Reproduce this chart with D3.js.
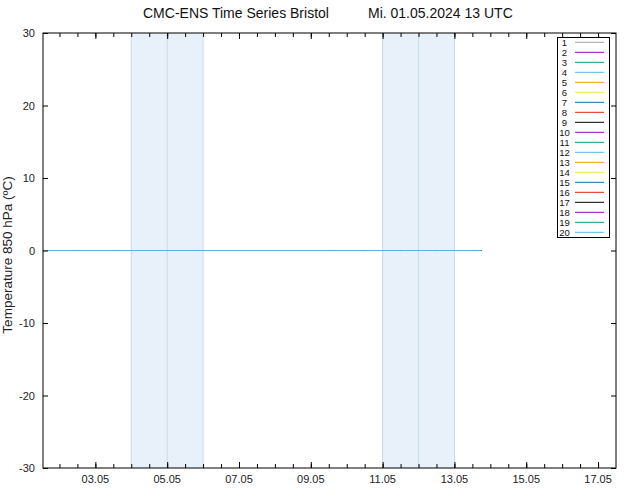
<!DOCTYPE html>
<html><head><meta charset="utf-8">
<script src="https://cdn.jsdelivr.net/npm/d3@7"></script>
<style>body{margin:0;background:#fff}svg{display:block}text{font-family:"Liberation Sans",Arial,sans-serif}</style>
</head><body><svg id="c" width="634" height="490"></svg>
<script>
const titleLeft = "CMC-ENS Time Series Bristol";
const titleRight = "Mi. 01.05.2024 13 UTC";
const yLabel = "Temperature 850 hPa (ºC)";
const domainStart = "2024-05-01T13:00";
const domainEnd = "2024-05-17T12:00";
const xTickLabels = ["03.05","05.05","07.05","09.05","11.05","13.05","15.05","17.05"];
const yTicks = [-30,-20,-10,0,10,20,30];
const weekendBands = [["2024-05-04T00:00","2024-05-06T00:00"],["2024-05-11T00:00","2024-05-13T00:00"]];
const members = ["1","2","3","4","5","6","7","8","9","10","11","12","13","14","15","16","17","18","19","20"];
const memberColors = ["#a0a0a0","#9400d3","#009e73","#56b4e9","#e69f00","#f0e442","#0072b2","#e51e10","#000000","#9400d3","#009e73","#56b4e9","#e69f00","#f0e442","#0072b2","#e51e10","#000000","#9400d3","#009e73","#56b4e9"];
const times = ["2024-05-01T12:00","2024-05-02T12:00","2024-05-03T12:00","2024-05-04T12:00","2024-05-05T12:00","2024-05-06T12:00","2024-05-07T12:00","2024-05-08T12:00","2024-05-09T12:00","2024-05-10T12:00","2024-05-11T12:00","2024-05-12T12:00","2024-05-13T12:00","2024-05-13T18:00"];
const memberValues = [
[0,0,0,0,0,0,0,0,0,0,0,0,0,0],[0,0,0,0,0,0,0,0,0,0,0,0,0,0],[0,0,0,0,0,0,0,0,0,0,0,0,0,0],[0,0,0,0,0,0,0,0,0,0,0,0,0,0],
[0,0,0,0,0,0,0,0,0,0,0,0,0,0],[0,0,0,0,0,0,0,0,0,0,0,0,0,0],[0,0,0,0,0,0,0,0,0,0,0,0,0,0],[0,0,0,0,0,0,0,0,0,0,0,0,0,0],
[0,0,0,0,0,0,0,0,0,0,0,0,0,0],[0,0,0,0,0,0,0,0,0,0,0,0,0,0],[0,0,0,0,0,0,0,0,0,0,0,0,0,0],[0,0,0,0,0,0,0,0,0,0,0,0,0,0],
[0,0,0,0,0,0,0,0,0,0,0,0,0,0],[0,0,0,0,0,0,0,0,0,0,0,0,0,0],[0,0,0,0,0,0,0,0,0,0,0,0,0,0],[0,0,0,0,0,0,0,0,0,0,0,0,0,0],
[0,0,0,0,0,0,0,0,0,0,0,0,0,0],[0,0,0,0,0,0,0,0,0,0,0,0,0,0],[0,0,0,0,0,0,0,0,0,0,0,0,0,0],[0,0,0,0,0,0,0,0,0,0,0,0,0,0]
];

const parse = d3.utcParse("%Y-%m-%dT%H:%M");
const L=43, R=616, T=33, B=468;
const svg = d3.select("#c");
const x = d3.scaleUtc().domain([parse(domainStart), parse(domainEnd)]).range([L,R]);
const y = d3.scaleLinear().domain([-30,30]).range([B,T]);

svg.append("defs").append("clipPath").attr("id","clip").append("rect").attr("x",L).attr("y",T).attr("width",R-L).attr("height",B-T);

// bands
weekendBands.forEach(b=>{
  const x0=x(parse(b[0])), x1=x(parse(b[1])), xm=(x0+x1)/2;
  svg.append("rect").attr("x",x0).attr("y",T).attr("width",x1-x0).attr("height",B-T).attr("fill","#e8f1fa");
  [x0,xm,x1].forEach(v=>svg.append("line").attr("x1",v).attr("x2",v).attr("y1",T).attr("y2",B).attr("stroke","#c6dbea").attr("stroke-width",1));
});

// lines
const g = svg.append("g").attr("clip-path","url(#clip)");
const line = d3.line().x((d,i)=>x(parse(times[i]))).y(d=>y(d));
memberValues.forEach((vals,k)=>{
  g.append("path").datum(vals).attr("d",line).attr("fill","none").attr("stroke",memberColors[k]).attr("stroke-width",1);
});

// axes
const minorTicks = d3.utcHour.every(12).range(parse(domainStart), parse(domainEnd));
const majorTicks = xTickLabels.map(s=>parse("2024-"+s.slice(3,5)+"-"+s.slice(0,2)+"T00:00"));
svg.append("g").attr("transform",`translate(0,${B})`).call(d3.axisTop(x).tickValues(minorTicks).tickSize(4).tickFormat("")).select(".domain").remove();
svg.append("g").attr("transform",`translate(0,${T})`).call(d3.axisBottom(x).tickValues(minorTicks).tickSize(4).tickFormat("")).select(".domain").remove();
svg.append("g").attr("transform",`translate(0,${B})`).call(d3.axisTop(x).tickValues(majorTicks).tickSize(6).tickFormat("")).select(".domain").remove();
svg.append("g").attr("transform",`translate(0,${T})`).call(d3.axisBottom(x).tickValues(majorTicks).tickSize(6).tickFormat("")).select(".domain").remove();
majorTicks.forEach((t,i)=>{
  svg.append("text").attr("x",x(t)).attr("y",B+15).attr("text-anchor","middle").attr("font-size",11).attr("fill","#222").text(xTickLabels[i]);
});
svg.append("g").attr("transform",`translate(${L},0)`).call(d3.axisRight(y).tickValues(yTicks).tickSize(5).tickFormat("")).select(".domain").remove();
svg.append("g").attr("transform",`translate(${R},0)`).call(d3.axisLeft(y).tickValues(yTicks).tickSize(5).tickFormat("")).select(".domain").remove();
yTicks.forEach(v=>{
  svg.append("text").attr("x",L-8).attr("y",y(v)+4).attr("text-anchor","end").attr("font-size",11).attr("fill","#222").text(v);
});
svg.selectAll(".tick line").attr("stroke","#000");
svg.append("rect").attr("x",L).attr("y",T).attr("width",R-L).attr("height",B-T).attr("fill","none").attr("stroke","#000").attr("stroke-width",1);

// titles
svg.append("text").attr("x",143).attr("y",18).attr("font-size",14).attr("fill","#111").text(titleLeft);
svg.append("text").attr("x",368).attr("y",18).attr("font-size",14).attr("fill","#111").text(titleRight);
svg.append("text").attr("transform",`translate(12,255) rotate(-90)`).attr("text-anchor","middle").attr("font-size",13.5).attr("fill","#222").text(yLabel);

// legend
const lg = svg.append("g");
lg.append("rect").attr("x",557.5).attr("y",37.5).attr("width",52).attr("height",200).attr("fill","#fff").attr("stroke","#000");
members.forEach((m,i)=>{
  const yy = 42.3 + i*10;
  lg.append("text").attr("x",564.5).attr("y",yy+3.5).attr("text-anchor","middle").attr("font-size",9.5).attr("fill","#111").text(m);
  lg.append("line").attr("x1",575).attr("x2",604).attr("y1",yy).attr("y2",yy).attr("stroke",memberColors[i]).attr("stroke-width",1);
});
</script></body></html>
